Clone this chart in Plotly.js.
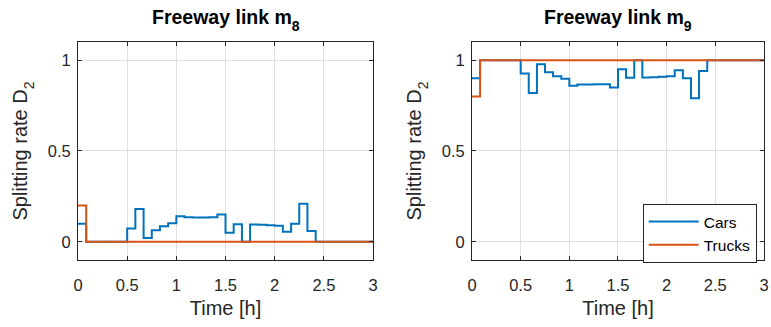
<!DOCTYPE html>
<html>
<head>
<meta charset="utf-8">
<script src="https://cdn.plot.ly/plotly-3.0.1.min.js"></script>
<style>
  html, body { margin: 0; padding: 0; background: #ffffff; }
  #chart { width: 771px; height: 327px; }
</style>
</head>
<body>
<div id="chart"></div>
<script>
// Step start times [h]; each value holds until the next time.
const timeSteps = [0, 0.083, 0.5, 0.583, 0.667, 0.75, 0.833, 0.917, 1.0, 1.083,
  1.167, 1.25, 1.333, 1.417, 1.5, 1.583, 1.667, 1.75, 1.833, 1.917,
  2.0, 2.083, 2.167, 2.25, 2.333, 2.417, 3.0];

// Splitting rate D2 on freeway link m8
const carsM8 = [0.10, 0, 0.073, 0.181, 0.021, 0.064, 0.086, 0.102, 0.141, 0.135,
  0.134, 0.134, 0.135, 0.150, 0.050, 0.097, 0, 0.095, 0.094, 0.091,
  0.088, 0.056, 0.099, 0.210, 0.059, 0, 0];
const truckTimes = [0, 0.083, 3.0];
const trucksM8 = [0.2, 0, 0];

// Splitting rate D2 on freeway link m9
const carsM9 = [0.90, 1.0, 0.927, 0.819, 0.978, 0.934, 0.912, 0.897, 0.859, 0.866,
  0.866, 0.867, 0.867, 0.850, 0.950, 0.903, 1.0, 0.905, 0.906, 0.909,
  0.912, 0.944, 0.901, 0.790, 0.941, 1.0, 1.0];
const trucksM9 = [0.8, 1, 1];

const xTicks = [0, 0.5, 1, 1.5, 2, 2.5, 3];
const xTickText = ['0', '0.5', '1', '1.5', '2', '2.5', '3'];
const yTicks = [0, 0.5, 1];
const yTickText = ['0', '0.5', '1'];

const carColor = '#0072BD';
const truckColor = '#D95319';
const ink = '#262626';
const fontFamily = 'Liberation Sans, Arial, Helvetica, sans-serif';

// Subscript with a deeper drop than the default <sub> offset
function sub(s, size) {
  return '<sub><span style="font-size:' + size + 'px;baseline-shift:-3px">' + s + '</span></sub>';
}

const traces = [
  { x: timeSteps, y: carsM8, name: 'Cars', type: 'scatter', mode: 'lines',
    line: { shape: 'hv', color: carColor, width: 2 }, xaxis: 'x', yaxis: 'y', showlegend: false },
  { x: truckTimes, y: trucksM8, name: 'Trucks', type: 'scatter', mode: 'lines',
    line: { shape: 'hv', color: truckColor, width: 2 }, xaxis: 'x', yaxis: 'y', showlegend: false },
  { x: timeSteps, y: carsM9, name: 'Cars', type: 'scatter', mode: 'lines',
    line: { shape: 'hv', color: carColor, width: 2 }, xaxis: 'x2', yaxis: 'y2' },
  { x: truckTimes, y: trucksM9, name: 'Trucks', type: 'scatter', mode: 'lines',
    line: { shape: 'hv', color: truckColor, width: 2 }, xaxis: 'x2', yaxis: 'y2' }
];

function xAxis(domain, anchor) {
  return {
    domain: domain, anchor: anchor, range: [0, 3],
    tickmode: 'array', tickvals: xTicks, ticktext: xTickText,
    ticks: 'inside', ticklen: 4, tickcolor: ink, tickwidth: 1,
    showline: true, linecolor: ink, linewidth: 1, mirror: 'ticks',
    showgrid: true, gridcolor: '#dfdfdf', gridwidth: 1, zeroline: false,
    tickfont: { family: fontFamily, size: 16.5, color: ink },
    ticklabelstandoff: 10,
    title: { text: 'Time [h]', font: { family: fontFamily, size: 20, color: ink }, standoff: 8 }
  };
}
function yAxis(domain, anchor) {
  return {
    domain: domain, anchor: anchor, range: [-0.1, 1.1],
    tickmode: 'array', tickvals: yTicks, ticktext: yTickText,
    ticks: 'inside', ticklen: 4, tickcolor: ink, tickwidth: 1,
    showline: true, linecolor: ink, linewidth: 1, mirror: 'ticks',
    showgrid: true, gridcolor: '#dfdfdf', gridwidth: 1, zeroline: false,
    tickfont: { family: fontFamily, size: 16.5, color: ink },
    ticklabelstandoff: 3,
    title: { text: 'Splitting rate D' + sub('2', 14), font: { family: fontFamily, size: 20, color: ink }, standoff: 14 }
  };
}

const yDom = [0.2049, 0.8716];
const layout = {
  width: 771, height: 327,
  margin: { l: 0, r: 0, t: 0, b: 0 },
  paper_bgcolor: '#ffffff', plot_bgcolor: '#ffffff',
  font: { family: fontFamily, color: ink },
  xaxis: xAxis([0.1012, 0.4838], 'y'),
  yaxis: yAxis(yDom, 'x'),
  xaxis2: xAxis([0.6122, 0.9909], 'y2'),
  yaxis2: yAxis(yDom, 'x2'),
  showlegend: true,
  legend: {
    x: 0.8336, y: 0.376, xanchor: 'left', yanchor: 'top',
    bgcolor: '#ffffff', bordercolor: ink, borderwidth: 1,
    font: { family: fontFamily, size: 15.5, color: '#000000' },
    itemwidth: 50, tracegroupgap: 0
  },
  annotations: [
    { text: '<b>Freeway link m' + sub('8', 14) + '</b>', xref: 'paper', yref: 'paper',
      x: (0.1012 + 0.4838) / 2, y: 0.94, xanchor: 'center', yanchor: 'middle', showarrow: false,
      font: { family: fontFamily, size: 19.5, color: '#000000' } },
    { text: '<b>Freeway link m' + sub('9', 14) + '</b>', xref: 'paper', yref: 'paper',
      x: (0.6122 + 0.9909) / 2, y: 0.94, xanchor: 'center', yanchor: 'middle', showarrow: false,
      font: { family: fontFamily, size: 19.5, color: '#000000' } }
  ]
};

Plotly.newPlot('chart', traces, layout, { displayModeBar: false, staticPlot: true });
</script>
</body>
</html>
